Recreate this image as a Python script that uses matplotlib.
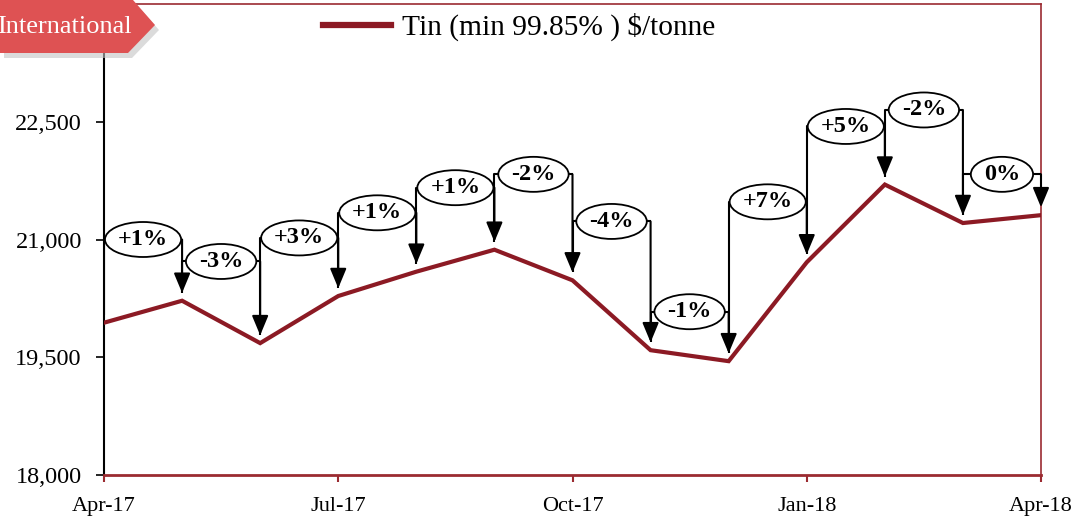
import matplotlib
matplotlib.use("Agg")
import matplotlib.pyplot as plt
from matplotlib.patches import Polygon, Ellipse

plt.rcParams["font.family"] = ["Liberation Serif", "DejaVu Serif"]

# monthly tin price, Apr-17 .. Apr-18
months = ["Apr-17", "May-17", "Jun-17", "Jul-17", "Aug-17", "Sep-17", "Oct-17",
          "Nov-17", "Dec-17", "Jan-18", "Feb-18", "Mar-18", "Apr-18"]
tin_price = [19940, 20220, 19680, 20280, 20590, 20870, 20480,
             19590, 19450, 20710, 21700, 21210, 21310]

# month-on-month change labels and the height of each bracket
change_labels = ["+1%", "-3%", "+3%", "+1%", "+1%", "-2%",
                 "-4%", "-1%", "+7%", "+5%", "-2%", "0%"]
bracket_levels = [21000, 20720, 21020, 21340, 21660, 21830,
                  21230, 20080, 21480, 22440, 22650, 21830]

tick_months = [0, 3, 6, 9, 12]
y_ticks = [18000, 19500, 21000, 22500]

LINE_RED = "#8c1a24"
FRAME_RED = "#9b2b31"
BADGE_RED = "#de5253"
TIP_GAP = 100

fig = plt.figure(figsize=(10.73, 5.18), dpi=100)
W, H = 1073, 518
ax = fig.add_axes([104 / W, 1 - 475 / H, (1041 - 104) / W, (475 - 4) / H])

x = list(range(len(months)))
ax.plot(x, tin_price, color=LINE_RED, lw=3, zorder=3,
        label="Tin (min 99.85% ) $/tonne", solid_joinstyle="miter")

ax.set_xlim(0, 12)
ax.set_ylim(18000, 24000)

# brackets with arrows and change labels
label_texts = []
for i, label in enumerate(change_labels):
    x0, x1 = x[i], x[i + 1]
    lvl = bracket_levels[i]
    ax.plot([x0, x0, x1], [tin_price[i] + TIP_GAP, lvl, lvl],
            color="black", lw=1.5, zorder=4, solid_capstyle="butt")
    ax.annotate("", xy=(x1, tin_price[i + 1] + TIP_GAP), xytext=(x1, lvl),
                arrowprops=dict(arrowstyle="-|>,head_length=0.6,head_width=0.25",
                                mutation_scale=20, color="black", lw=1.5,
                                shrinkA=0, shrinkB=0),
                zorder=4, annotation_clip=False)
    t = ax.text((x0 + x1) / 2, lvl, label, ha="center", va="center",
                fontsize=17.5, fontweight="bold", zorder=6)
    label_texts.append(t)

# ellipses sized to the label text
fig.canvas.draw()
renderer = fig.canvas.get_renderer()
px_per_x = (1041 - 104) / 12
px_per_y = (475 - 4) / 6000
for t in label_texts:
    bb = t.get_window_extent(renderer)
    cx, cy = t.get_position()
    ax.add_patch(Ellipse((cx, cy), width=(bb.width + 26) / px_per_x,
                         height=35 / px_per_y, fc="white", ec="black",
                         lw=1.3, zorder=5, clip_on=False))

ax.set_xticks(tick_months)
ax.set_xticklabels([months[m] for m in tick_months])
ax.set_yticks(y_ticks)
ax.set_yticklabels([f"{v:,}" for v in y_ticks])

ax.tick_params(axis="x", colors=FRAME_RED, labelcolor="black", labelsize=16,
               length=5, width=1.5, pad=11)
ax.tick_params(axis="y", colors="black", labelsize=17.5, length=6, width=1.2, pad=10)

ax.spines["left"].set_color("black")
ax.spines["left"].set_linewidth(1.5)
ax.spines["bottom"].set_color(FRAME_RED)
ax.spines["bottom"].set_linewidth(2)
for side in ["top", "right"]:
    ax.spines[side].set_color(FRAME_RED)
    ax.spines[side].set_linewidth(1.2)

leg = ax.legend(loc="center left", bbox_to_anchor=(323 / W, 1 - 27 / H),
                bbox_transform=fig.transFigure, frameon=False, fontsize=21.2,
                borderpad=0, borderaxespad=0, handlelength=2.3, handletextpad=0.4)
leg.get_lines()[0].set_linewidth(4.5)

# "International" badge in the top-left corner
badge = [(0, 0), (133, 0), (155, 25), (128, 53), (0, 53)]
fig.add_artist(Polygon([((px + 4) / W, 1 - (py + 5) / H) for px, py in badge],
                       closed=True, transform=fig.transFigure, fc="#c4c4c4",
                       ec="none", alpha=0.6, zorder=9))
fig.add_artist(Polygon([(px / W, 1 - py / H) for px, py in badge], closed=True,
                       transform=fig.transFigure, fc=BADGE_RED, ec="none", zorder=10))
fig.text(132 / W, 1 - 33 / H, "International", ha="right", va="baseline",
         color="white", fontsize=19, zorder=11)

fig.savefig("out.png", dpi=100)
